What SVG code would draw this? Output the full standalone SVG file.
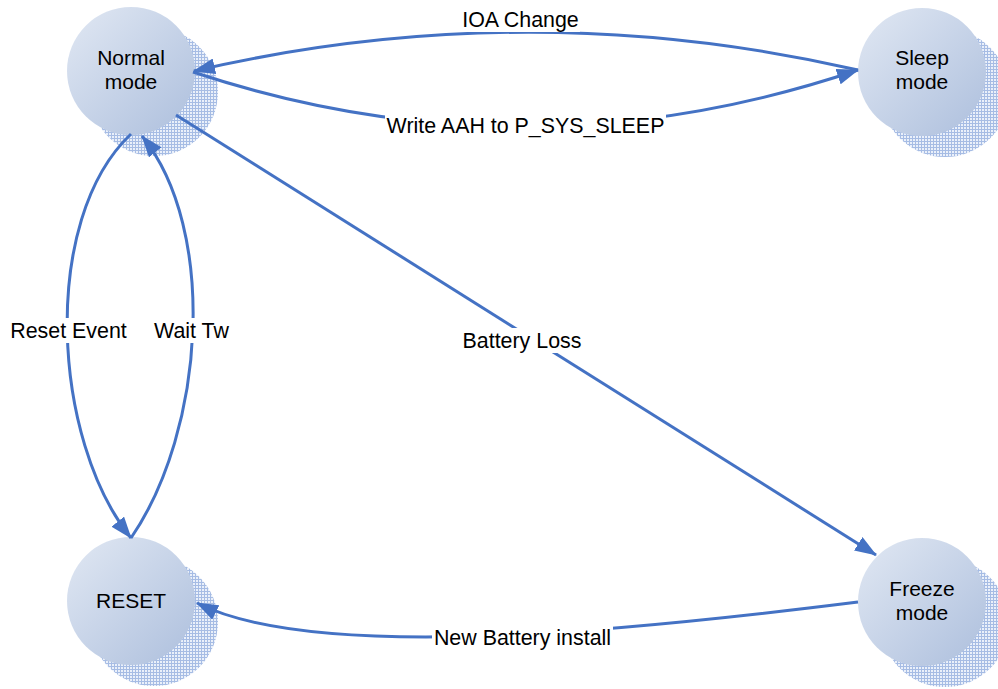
<svg xmlns="http://www.w3.org/2000/svg" width="998" height="689" viewBox="0 0 998 689">
  <defs>
    <linearGradient id="ball" x1="0" y1="0" x2="1" y2="1">
      <stop offset="0" stop-color="#e1e8f3"/>
      <stop offset="1" stop-color="#adbfdd"/>
    </linearGradient>
    <pattern id="mesh" width="3" height="3" patternUnits="userSpaceOnUse">
      <rect width="3" height="3" fill="#eaf0fa"/>
      <path d="M0,0.5H3M0.5,0V3" stroke="#a6bce4" stroke-width="1"/>
    </pattern>
    <marker id="arrow" viewBox="0 0 22 16" refX="21" refY="8" markerWidth="22" markerHeight="16" markerUnits="userSpaceOnUse" orient="auto">
      <path d="M0,0L22,8L0,16z" fill="#4472c4"/>
    </marker>
  </defs>
  <style>
    .shadow { fill: url(#mesh); }
    .ball { fill: url(#ball); }
    .name { font-family: "Liberation Sans", Arial, sans-serif; font-size: 21px; fill: #000; text-anchor: middle; }
    .edge { fill: none; stroke: #4472c4; stroke-width: 3; marker-end: url(#arrow); }
    .tag { font-family: "Liberation Sans", Arial, sans-serif; font-size: 21.4px; fill: #000; text-anchor: middle; }
    .tagbg { fill: #fff; }
  </style>
  <rect width="998" height="689" fill="#fff"/>

  <g id="normal-mode">
    <circle class="shadow" cx="154" cy="92" r="64"/>
    <circle class="ball" cx="131" cy="71" r="64"/>
    <text class="name" x="131" y="65">Normal</text>
    <text class="name" x="131" y="89">mode</text>
  </g>
  <g id="sleep-mode">
    <circle class="shadow" cx="945" cy="93" r="64"/>
    <circle class="ball" cx="922" cy="72" r="64"/>
    <text class="name" x="922" y="65">Sleep</text>
    <text class="name" x="922" y="89">mode</text>
  </g>
  <g id="reset">
    <circle class="shadow" cx="154" cy="622" r="64"/>
    <circle class="ball" cx="131" cy="601" r="64"/>
    <text class="name" x="131" y="608">RESET</text>
  </g>
  <g id="freeze-mode">
    <circle class="shadow" cx="945" cy="623" r="64"/>
    <circle class="ball" cx="922" cy="602" r="64"/>
    <text class="name" x="922" y="596">Freeze</text>
    <text class="name" x="922" y="620">mode</text>
  </g>

  <g id="connectors">
    <path class="edge" d="M858,70 Q527,-6 194,71"/>
    <path class="edge" d="M193,72 Q525,182 858,70"/>
    <path class="edge" d="M176,115 L876,555"/>
    <path class="edge" d="M131,134 C40,220 52,440 131,538"/>
    <path class="edge" d="M131,538 C205,430 218,230 142,136"/>
    <path class="edge" d="M858,602 C650,628 320,665 197,603"/>

    <rect class="tagbg" x="461" y="7" width="119" height="25"/>
    <text class="tag" x="520.5" y="27">IOA Change</text>
    <rect class="tagbg" x="385" y="113" width="281" height="26"/>
    <text class="tag" x="525.5" y="133">Write AAH to P_SYS_SLEEP</text>
    <rect class="tagbg" x="462" y="328" width="120" height="25"/>
    <text class="tag" x="522" y="348">Battery Loss</text>
    <rect class="tagbg" x="8" y="318" width="121" height="25"/>
    <text class="tag" x="68.5" y="338">Reset Event</text>
    <rect class="tagbg" x="151" y="318" width="81" height="25"/>
    <text class="tag" x="191.5" y="338">Wait Tw</text>
    <rect class="tagbg" x="432" y="625" width="181" height="25"/>
    <text class="tag" x="522.5" y="645">New Battery install</text>
  </g>
</svg>
